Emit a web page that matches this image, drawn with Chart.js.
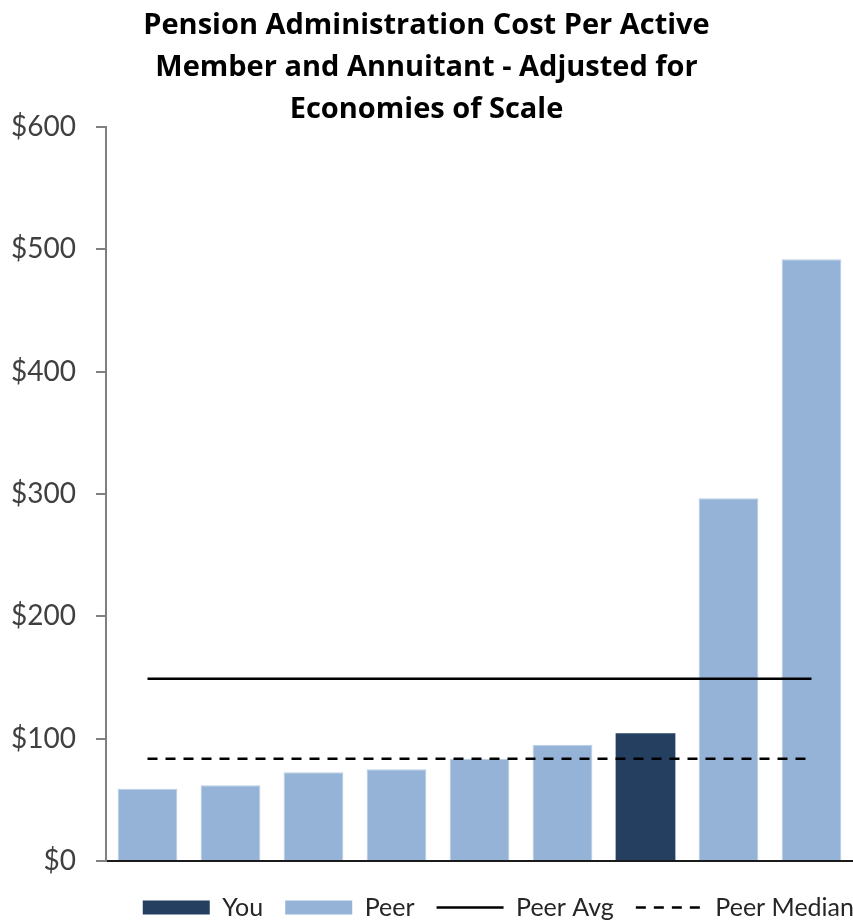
<!DOCTYPE html>
<html>
<head>
<meta charset="utf-8">
<script src="https://cdn.jsdelivr.net/npm/chart.js@4"></script>
<style>
  html, body { margin: 0; padding: 0; background: #ffffff; }
  #wrap { width: 853px; height: 920px; position: relative; }
</style>
</head>
<body>
<div id="wrap"><canvas id="costChart"></canvas></div>
<script>
// Pension admin cost per active member and annuitant, scale-adjusted ($).
const systems = ['Peer A','Peer B','Peer C','Peer D','Peer E','Peer F','You','Peer G','Peer H'];

// Peer bars (the "You" slot is empty here).
const peerCost = [59, 62, 72.5, 75, 83.5, 95, null, 296.5, 492];

// Your own bar, only in its own slot.
const youCost = [null, null, null, null, null, null, 104.5, null, null];

// Reference lines.
const peerAvg = 149;
const peerMedian = 83.5;

const yTicks = [0, 100, 200, 300, 400, 500, 600];

const FONT = 'Lato, "Open Sans", sans-serif';
const TITLE_FONT = '"Open Sans", Lato, sans-serif';
const DARK = '#243f60';
const LIGHT = '#95b3d7';

// Nudge the legend box down/right so it sits under the plot like the Excel legend.
const legendNudge = {
  id: 'legendNudge',
  afterLayout(chart) {
    const lg = chart.legend;
    if (!lg) return;
    lg.left += 23; lg.right += 23;
    lg.top += 10; lg.bottom += 10;
  }
};

new Chart(document.getElementById('costChart').getContext('2d'), {
  type: 'bar',
  data: {
    labels: systems,
    datasets: [
      {
        label: 'You',
        data: youCost,
        backgroundColor: DARK,
        borderWidth: 0,
        grouped: false,
        order: 2
      },
      {
        label: 'Peer',
        data: peerCost,
        backgroundColor: LIGHT,
        borderColor: '#b9cde5',
        borderWidth: 1,
        grouped: false,
        order: 2
      },
      {
        type: 'line',
        label: 'Peer Avg',
        data: [{ x: systems[0], y: peerAvg }, { x: systems[systems.length - 1], y: peerAvg }],
        borderColor: '#000000',
        borderWidth: 2.5,
        pointRadius: 0,
        order: 1
      },
      {
        type: 'line',
        label: 'Peer Median',
        data: [{ x: systems[0], y: peerMedian }, { x: systems[systems.length - 1], y: peerMedian }],
        borderColor: '#000000',
        borderWidth: 2.5,
        borderDash: [10, 8],
        pointRadius: 0,
        order: 1
      }
    ]
  },
  plugins: [legendNudge],
  options: {
    responsive: true,
    maintainAspectRatio: false,
    animation: false,
    layout: { padding: { left: 0, right: 0, top: 0, bottom: 0 } },
    datasets: {
      bar: { categoryPercentage: 1, barPercentage: 0.72 }
    },
    plugins: {
      title: {
        display: true,
        text: ['Pension Administration Cost Per Active', 'Member and Annuitant - Adjusted for', 'Economies of Scale'],
        color: '#000000',
        font: { family: TITLE_FONT, size: 29, weight: 'bold', lineHeight: 1.45 },
        padding: { top: 5, bottom: -4 }
      },
      legend: {
        position: 'bottom',
        align: 'end',
        labels: {
          color: '#262626',
          font: { family: FONT, size: 25 },
          usePointStyle: true,
          pointStyleWidth: 67,
          boxHeight: 14,
          padding: 22,
          generateLabels: (chart) => chart.data.datasets.map((ds, i) => ({
            text: ds.label,
            datasetIndex: i,
            fillStyle: ds.type === 'line' ? 'rgba(0,0,0,0)' : ds.backgroundColor,
            strokeStyle: ds.type === 'line' ? ds.borderColor : ds.backgroundColor,
            lineWidth: ds.type === 'line' ? 2.5 : 0,
            lineDash: ds.borderDash || [],
            pointStyle: ds.type === 'line' ? 'line' : 'rect',
            fontColor: '#262626'
          }))
        }
      },
      tooltip: { enabled: false }
    },
    scales: {
      x: {
        grid: { display: false },
        ticks: { display: false },
        border: { color: '#1a1a1a', width: 2 },
        afterFit: (axis) => { axis.height = 2; }
      },
      y: {
        min: 0,
        max: 600,
        afterBuildTicks: (axis) => { axis.ticks = yTicks.map(v => ({ value: v })); },
        afterFit: (axis) => { axis.width = 106; },
        grid: { drawOnChartArea: false, drawTicks: true, tickLength: 10, color: '#808080', lineWidth: 2 },
        border: { color: '#808080', width: 2 },
        ticks: {
          color: '#404040',
          padding: 20,
          font: { family: FONT, size: 28 },
          callback: (v) => '$' + v
        }
      }
    }
  }
});
</script>
</body>
</html>
